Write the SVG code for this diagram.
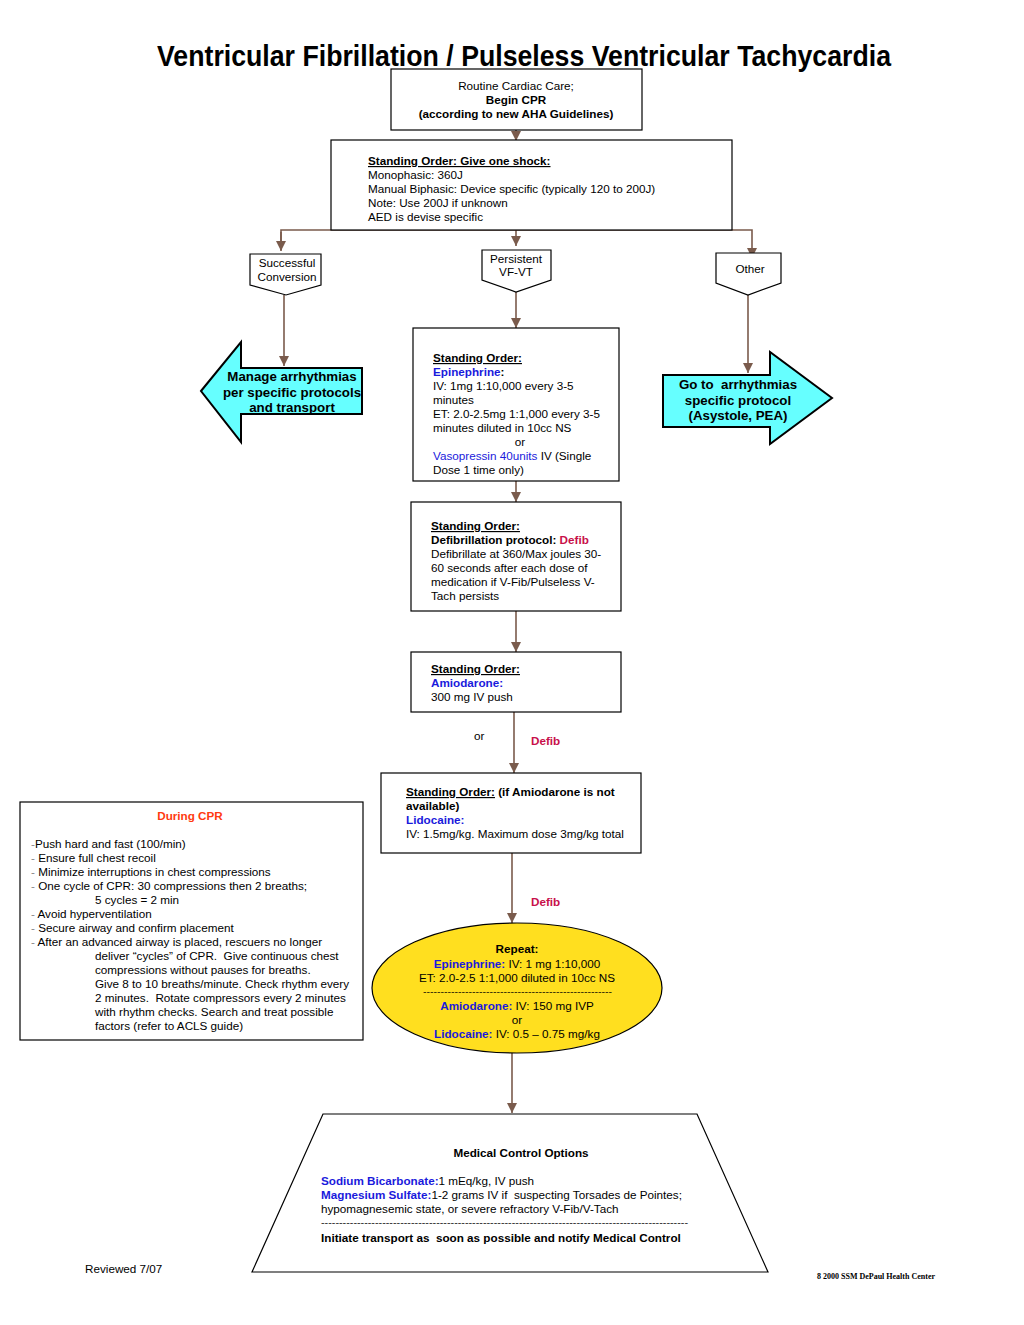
<svg xmlns="http://www.w3.org/2000/svg" width="1024" height="1325" viewBox="0 0 1024 1325">
<defs>
<marker id="ah" viewBox="0 0 10 10" refX="10" refY="5" markerWidth="10" markerHeight="10" markerUnits="userSpaceOnUse" orient="auto">
<path d="M0,0 L10,5 L0,10 z" fill="#7a5b4c"/>
</marker>
<style>
text{font-family:"Liberation Sans",Arial,sans-serif;font-size:11.7px;fill:#000;white-space:pre}
.b{font-weight:bold}
.u{text-decoration:underline}
.blue{fill:#1a1adc}
.red{fill:#c8104a}
.c{text-anchor:middle}
.box{fill:#fff;stroke:#000;stroke-width:1.2}
.con{fill:none;stroke:#7a5b4c;stroke-width:1.6}
.big{font-size:13.3px;font-weight:bold}
.gray{fill:#888}
</style>
</defs>
<rect width="1024" height="1325" fill="#fff"/>
<text x="157" y="66" class="b" style="font-size:30px" textLength="734" lengthAdjust="spacingAndGlyphs">Ventricular Fibrillation / Pulseless Ventricular Tachycardia</text>

<g id="connectors">
<line class="con" x1="516" y1="130" x2="516" y2="141" marker-end="url(#ah)"/>
<polyline class="con" points="281,250 281,230 752,230 752,258" marker-end="url(#ah)"/>
<line class="con" x1="281" y1="232" x2="281" y2="251" marker-end="url(#ah)"/>
<line class="con" x1="516" y1="230" x2="516" y2="246" marker-end="url(#ah)"/>
<line class="con" x1="284" y1="295" x2="284" y2="366" marker-end="url(#ah)"/>
<line class="con" x1="516" y1="292" x2="516" y2="328" marker-end="url(#ah)"/>
<line class="con" x1="748" y1="295" x2="748" y2="373" marker-end="url(#ah)"/>
<line class="con" x1="516" y1="481" x2="516" y2="502" marker-end="url(#ah)"/>
<line class="con" x1="516" y1="611" x2="516" y2="652" marker-end="url(#ah)"/>
<line class="con" x1="514" y1="712" x2="514" y2="773" marker-end="url(#ah)"/>
<line class="con" x1="512" y1="853" x2="512" y2="923" marker-end="url(#ah)"/>
<line class="con" x1="512" y1="1053" x2="512" y2="1113" marker-end="url(#ah)"/>
<text x="474" y="740">or</text>
<text x="531" y="745" class="b red">Defib</text>
<text x="531" y="906" class="b red">Defib</text>
</g>

<g id="n-start">
<rect class="box" x="391" y="69" width="251" height="61"/>
<text x="516" y="90" class="c">Routine Cardiac Care;</text>
<text x="516" y="104" class="c b">Begin CPR</text>
<text x="516" y="118" class="c b">(according to new AHA Guidelines)</text>
</g>

<g id="n-shock">
<rect class="box" x="331" y="140" width="401" height="90"/>
<text x="368" y="165" class="b u">Standing Order: Give one shock:</text>
<text x="368" y="179">Monophasic: 360J</text>
<text x="368" y="193">Manual Biphasic: Device specific (typically 120 to 200J)</text>
<text x="368" y="207">Note: Use 200J if unknown</text>
<text x="368" y="221">AED is devise specific</text>
</g>

<g id="n-success">
<polygon class="box" points="250,254 321,254 321,285 286,295 250,285"/>
<text x="287" y="267" class="c">Successful</text>
<text x="287" y="281" class="c">Conversion</text>
</g>

<g id="n-persistent">
<polygon class="box" points="482,250 551,250 551,280 516,292 482,280"/>
<text x="516" y="263" class="c">Persistent</text>
<text x="516" y="276" class="c">VF-VT</text>
</g>

<g id="n-other">
<polygon class="box" points="716,253 781,253 781,283 748,295 716,283"/>
<text x="750" y="273" class="c">Other</text>
</g>

<g id="n-manage">
<polygon points="201,391 241,342 241,368 362,368 362,414 241,414 241,442" fill="#66ffff" stroke="#000" stroke-width="2"/>
<text x="292" y="381" class="c big">Manage arrhythmias</text>
<text x="292" y="397" class="c big">per specific protocols</text>
<text x="292" y="412" class="c big">and transport</text>
</g>

<g id="n-goto">
<polygon points="663,375 770,375 770,352 832,398 770,444 770,427 663,427" fill="#66ffff" stroke="#000" stroke-width="2"/>
<text x="738" y="389" class="c big">Go to  arrhythmias</text>
<text x="738" y="405" class="c big">specific protocol</text>
<text x="738" y="420" class="c big">(Asystole, PEA)</text>
</g>

<g id="n-epi">
<rect class="box" x="413" y="328" width="206" height="153"/>
<text x="433" y="362" class="b u">Standing Order:</text>
<text x="433" y="376" class="b"><tspan class="blue">Epinephrine</tspan>:</text>
<text x="433" y="390">IV: 1mg 1:10,000 every 3-5</text>
<text x="433" y="404">minutes</text>
<text x="433" y="418">ET: 2.0-2.5mg 1:1,000 every 3-5</text>
<text x="433" y="432">minutes diluted in 10cc NS</text>
<text x="520" y="446" class="c">or</text>
<text x="433" y="460"><tspan class="blue">Vasopressin 40units</tspan> IV (Single</text>
<text x="433" y="474">Dose 1 time only)</text>
</g>

<g id="n-defib">
<rect class="box" x="411" y="502" width="210" height="109"/>
<text x="431" y="530" class="b u">Standing Order:</text>
<text x="431" y="544" class="b">Defibrillation protocol: <tspan class="red">Defib</tspan></text>
<text x="431" y="558">Defibrillate at 360/Max joules 30-</text>
<text x="431" y="572">60 seconds after each dose of</text>
<text x="431" y="586">medication if V-Fib/Pulseless V-</text>
<text x="431" y="600">Tach persists</text>
</g>

<g id="n-amio">
<rect class="box" x="411" y="652" width="210" height="60"/>
<text x="431" y="673" class="b u">Standing Order:</text>
<text x="431" y="687" class="b blue">Amiodarone:</text>
<text x="431" y="701">300 mg IV push</text>
</g>

<g id="n-lido">
<rect class="box" x="381" y="773" width="260" height="80"/>
<text x="406" y="796" class="b"><tspan class="u">Standing Order:</tspan> (if Amiodarone is not</text>
<text x="406" y="810" class="b">available)</text>
<text x="406" y="824" class="b blue">Lidocaine:</text>
<text x="406" y="838">IV: 1.5mg/kg. Maximum dose 3mg/kg total</text>
</g>

<g id="n-cpr">
<rect class="box" x="20" y="802" width="343" height="238"/>
<text x="190" y="820" class="c b" style="fill:#ff3a10">During CPR</text>
<text x="31" y="848"><tspan class="gray">-</tspan>Push hard and fast (100/min)</text>
<text x="31" y="862"><tspan class="gray">-</tspan> Ensure full chest recoil</text>
<text x="31" y="876"><tspan class="gray">-</tspan> Minimize interruptions in chest compressions</text>
<text x="31" y="890"><tspan class="gray">-</tspan> One cycle of CPR: 30 compressions then 2 breaths;</text>
<text x="95" y="904">5 cycles = 2 min</text>
<text x="31" y="918"><tspan class="gray">-</tspan> Avoid hyperventilation</text>
<text x="31" y="932"><tspan class="gray">-</tspan> Secure airway and confirm placement</text>
<text x="31" y="946"><tspan class="gray">-</tspan> After an advanced airway is placed, rescuers no longer</text>
<text x="95" y="960">deliver “cycles” of CPR.  Give continuous chest</text>
<text x="95" y="974">compressions without pauses for breaths.</text>
<text x="95" y="988">Give 8 to 10 breaths/minute. Check rhythm every</text>
<text x="95" y="1002">2 minutes.  Rotate compressors every 2 minutes</text>
<text x="95" y="1016">with rhythm checks. Search and treat possible</text>
<text x="95" y="1030">factors (refer to ACLS guide)</text>
</g>

<g id="n-repeat">
<ellipse cx="517" cy="988" rx="145" ry="65" fill="#ffdf1f" stroke="#000" stroke-width="1.2"/>
<text x="517" y="953" class="c b">Repeat:</text>
<text x="517" y="968" class="c"><tspan class="b blue">Epinephrine:</tspan> IV: 1 mg 1:10,000</text>
<text x="517" y="982" class="c">ET: 2.0-2.5 1:1,000 diluted in 10cc NS</text>
<text x="423" y="995" textLength="189" lengthAdjust="spacingAndGlyphs" style="font-size:9px">------------------------------------------------------</text>
<text x="517" y="1010" class="c"><tspan class="b blue">Amiodarone:</tspan> IV: 150 mg IVP</text>
<text x="517" y="1024" class="c">or</text>
<text x="517" y="1038" class="c"><tspan class="b blue">Lidocaine:</tspan> IV: 0.5 – 0.75 mg/kg</text>
</g>

<g id="n-medical">
<polygon class="box" points="323,1114 697,1114 768,1272 252,1272"/>
<text x="521" y="1157" class="c b">Medical Control Options</text>
<text x="321" y="1185"><tspan class="b blue">Sodium Bicarbonate:</tspan>1 mEq/kg, IV push</text>
<text x="321" y="1199"><tspan class="b blue">Magnesium Sulfate:</tspan>1-2 grams IV if  suspecting Torsades de Pointes;</text>
<text x="321" y="1213">hypomagnesemic state, or severe refractory V-Fib/V-Tach</text>
<text x="321" y="1226" textLength="367" lengthAdjust="spacingAndGlyphs" style="font-size:9px">------------------------------------------------------------------------------------------------------</text>
<text x="321" y="1242" class="b">Initiate transport as  soon as possible and notify Medical Control</text>
</g>

<text x="85" y="1273">Reviewed 7/07</text>
<text x="817" y="1279" style="font-family:'Liberation Serif','Times New Roman',serif;font-size:8px;font-weight:bold">8 2000 SSM DePaul Health Center</text>
</svg>
